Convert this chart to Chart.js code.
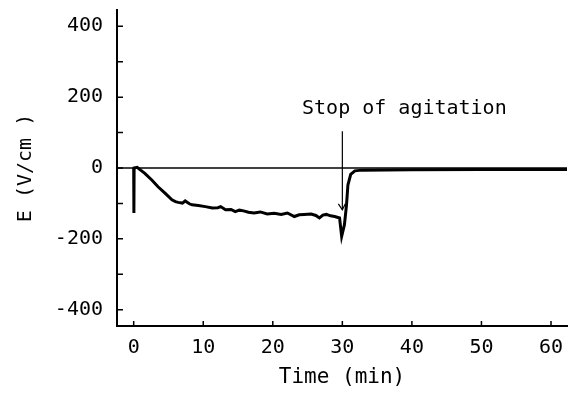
<!DOCTYPE html>
<html>
<head>
<meta charset="utf-8">
<script src="https://cdn.jsdelivr.net/npm/chart.js@4"></script>
<style>
  body { margin: 0; background: #fff; }
</style>
</head>
<body>
<canvas id="chart" width="575" height="394"></canvas>
<script>
  // time (min) and field E (V/cm)
  var timeMin = [0, 0.03, 0.06, 0.5, 1.0, 1.6, 2.6, 3.5, 4.5, 5.5, 6.0, 6.4, 7.0, 7.4, 8.0, 8.4, 9.3, 10.3, 11.3, 12.1, 12.5, 13.2, 14.0, 14.6, 15.2, 15.8, 16.5, 17.3, 18.2, 19.2, 20.2, 21.2, 22.1, 23.1, 23.8, 24.5, 25.5, 26.2, 26.7, 27.2, 27.7, 28.3, 28.9, 29.6, 29.9, 30.3, 30.6, 30.8, 31.2, 31.8, 32.8, 40, 50, 62.3];
  var fieldE = [0, -127, 0, 2, -6, -15, -34, -53, -71, -90, -95, -97, -99, -93, -101, -104, -106, -109, -113, -112, -109, -118, -117, -123, -119, -121, -125, -127, -124, -130, -128, -131, -127, -137, -132, -131, -130, -134, -141, -133, -131, -135, -137, -141, -193, -160, -104, -48, -18, -8, -6, -5, -4, -4];

  // reference zero line across the record
  var baseT = [-2.4, 62.3];
  var baseE = [0, 0];

  // arrow marking the stop of agitation
  var arrowT = [30, 30];
  var arrowE = [104, -118];
  var noteText = "Stop of agitation";
  var noteT = 24.2;
  var noteE = 152;

  var xTicks = [0, 10, 20, 30, 40, 50, 60];
  var yTicks = [-400, -200, 0, 200, 400];
  var yMinor = [-300, -100, 100, 300];

  function pts(xs, ys) {
    var out = [];
    for (var i = 0; i < xs.length; i++) out.push({ x: xs[i], y: ys[i] });
    return out;
  }

  var FONT = "'DejaVu Sans Mono', monospace";

  // ticks point into the plot, and the arrow head + note
  var extras = {
    id: "extras",
    afterDraw: function(chart) {
      var ctx = chart.ctx;
      var xs = chart.scales.x, ys = chart.scales.y;
      var area = chart.chartArea;
      ctx.save();
      ctx.strokeStyle = "#000";
      ctx.lineWidth = 1.5;
      ctx.beginPath();
      yTicks.concat(yMinor).forEach(function(v) {
        var py = ys.getPixelForValue(v);
        ctx.moveTo(area.left, py);
        ctx.lineTo(area.left + 6, py);
      });
      xTicks.forEach(function(v) {
        var px = xs.getPixelForValue(v);
        ctx.moveTo(px, area.bottom);
        ctx.lineTo(px, area.bottom - 5);
      });
      ctx.stroke();

      // arrow head
      var ax = xs.getPixelForValue(arrowT[1]);
      var ay = ys.getPixelForValue(arrowE[1]);
      ctx.lineWidth = 1.2;
      ctx.beginPath();
      ctx.moveTo(ax - 4, ay - 6);
      ctx.lineTo(ax, ay);
      ctx.lineTo(ax + 3, ay - 6);
      ctx.stroke();

      ctx.fillStyle = "#000";
      ctx.font = "20px " + FONT;
      ctx.textAlign = "left";
      ctx.textBaseline = "alphabetic";
      ctx.fillText(noteText, xs.getPixelForValue(noteT), ys.getPixelForValue(noteE));
      ctx.restore();
    }
  };

  var ctx = document.getElementById("chart").getContext("2d");
  var chart = new Chart(ctx, {
    type: "line",
    data: {
      datasets: [{
        data: pts(baseT, baseE),
        borderColor: "#000",
        borderWidth: 1.5,
        pointRadius: 0,
        tension: 0
      }, {
        data: pts(timeMin, fieldE),
        borderColor: "#000",
        borderWidth: 3,
        pointRadius: 0,
        tension: 0
      }, {
        data: pts(arrowT, arrowE),
        borderColor: "#000",
        borderWidth: 1.2,
        pointRadius: 0
      }]
    },
    options: {
      responsive: false,
      animation: false,
      layout: { padding: { left: 0, right: 8, top: 10, bottom: 0 } },
      plugins: { legend: { display: false }, tooltip: { enabled: false } },
      scales: {
        x: {
          type: "linear",
          min: -2.4,
          max: 62.3,
          afterBuildTicks: function(s) { s.ticks = xTicks.map(function(v) { return { value: v }; }); },
          afterFit: function(s) { s.height = 68; s.paddingLeft = 0; s.paddingRight = 0; },
          border: { display: true, color: "#000", width: 2 },
          grid: { display: false, drawTicks: false },
          ticks: { color: "#000", padding: 10, maxRotation: 0, font: { family: FONT, size: 20 } },
          title: { display: true, text: "Time (min)", color: "#000", font: { family: FONT, size: 21 }, padding: { top: 4, bottom: 4 } }
        },
        y: {
          min: -446,
          max: 446,
          afterBuildTicks: function(s) { s.ticks = yTicks.map(function(v) { return { value: v }; }); },
          afterFit: function(s) { s.width = 117; s.paddingTop = 0; s.paddingBottom = 0; },
          border: { display: true, color: "#000", width: 2 },
          grid: { display: false, drawTicks: false },
          ticks: { color: "#000", padding: 14, font: { family: FONT, size: 20 } },
          title: { display: true, text: "E (V/cm )", color: "#000", font: { family: FONT, size: 20 }, padding: { top: 14, bottom: 14 } }
        }
      }
    },
    plugins: [extras]
  });
</script>
</body>
</html>
